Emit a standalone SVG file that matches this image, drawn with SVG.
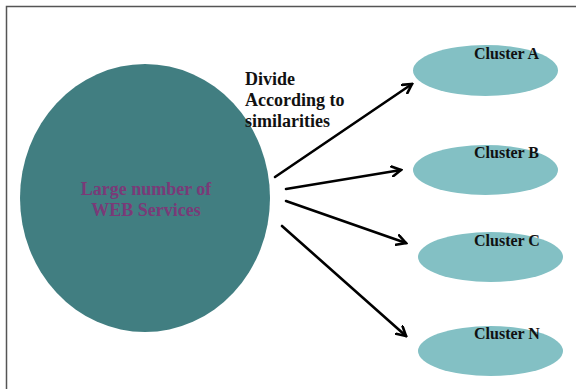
<svg xmlns="http://www.w3.org/2000/svg" width="576" height="389" viewBox="0 0 576 389">
<style>
.big{fill:#417e81;}
.cl{fill:#83c0c4;}
.t{font-family:'Liberation Serif','Times New Roman','DejaVu Serif',serif;font-weight:bold;}
.ct{font-size:16px;fill:#111;}
.arr{stroke:#000;stroke-width:2.6;fill:none;stroke-linecap:round;}
</style>
<defs>
<marker id="ah" markerWidth="12" markerHeight="12" refX="10" refY="6" orient="auto" markerUnits="userSpaceOnUse">
<path d="M1,1 L10,6 L1,11" fill="none" stroke="#000" stroke-width="2.6" stroke-linecap="round" stroke-linejoin="miter"/>
</marker>
</defs>
<rect width="576" height="389" fill="#fff"/>
<path d="M6.5,389 V6.5 H576" fill="none" stroke="#555" stroke-width="1.5"/>
<g id="source">
<ellipse class="big" cx="145" cy="198" rx="125" ry="134"/>
<text class="t" font-family="Liberation Serif, serif" x="146" y="195" font-size="18" fill="#7a3a78" text-anchor="middle">Large number of</text>
<text class="t" font-family="Liberation Serif, serif" x="146" y="216" font-size="18" fill="#7a3a78" text-anchor="middle">WEB Services</text>
</g>
<g id="label">
<text class="t" font-family="Liberation Serif, serif" x="245" y="85" font-size="18" fill="#111">Divide</text>
<text class="t" font-family="Liberation Serif, serif" x="245" y="106" font-size="18" fill="#111">According to</text>
<text class="t" font-family="Liberation Serif, serif" x="245" y="127" font-size="18" fill="#111">similarities</text>
</g>
<g id="clusterA">
<ellipse class="cl" cx="485.5" cy="70.5" rx="72.5" ry="25.5"/>
<text class="t ct" font-family="Liberation Serif, serif" x="474" y="59">Cluster A</text>
</g>
<g id="clusterB">
<ellipse class="cl" cx="485.5" cy="170" rx="72.5" ry="25"/>
<text class="t ct" font-family="Liberation Serif, serif" x="474" y="158">Cluster B</text>
</g>
<g id="clusterC">
<ellipse class="cl" cx="490.5" cy="257" rx="72.5" ry="25"/>
<text class="t ct" font-family="Liberation Serif, serif" x="474" y="246">Cluster C</text>
</g>
<g id="clusterN">
<ellipse class="cl" cx="490.5" cy="351" rx="72.5" ry="25"/>
<text class="t ct" font-family="Liberation Serif, serif" x="474" y="339">Cluster N</text>
</g>
<g id="connectors">
<line class="arr" x1="275" y1="177" x2="412" y2="84" marker-end="url(#ah)"/>
<line class="arr" x1="286" y1="189" x2="401" y2="170" marker-end="url(#ah)"/>
<line class="arr" x1="286" y1="201" x2="406" y2="243" marker-end="url(#ah)"/>
<line class="arr" x1="282" y1="226" x2="406" y2="336" marker-end="url(#ah)"/>
</g>
</svg>
